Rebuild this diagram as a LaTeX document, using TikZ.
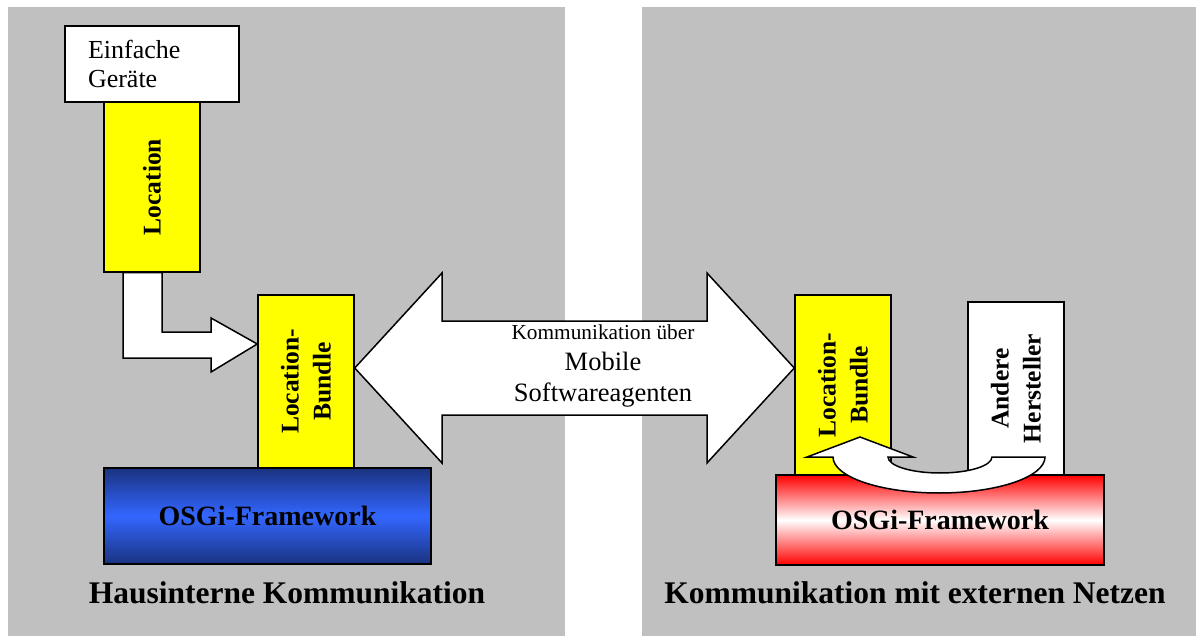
\documentclass[tikz,border=0pt]{standalone}
\usepackage{fontspec}
\setmainfont{Liberation Serif}
\usetikzlibrary{calc,positioning}

\definecolor{panelgray}{HTML}{C0C0C0}
\definecolor{boxyellow}{HTML}{FFFF00}
\definecolor{navy}{HTML}{1A3380}
\definecolor{lightblue}{HTML}{3366FF}
\definecolor{osgired}{HTML}{FF0000}

\tikzset{
  box/.style={draw=black, line width=1.5pt, inner sep=0pt},
  bundlebox/.style={box, fill=boxyellow, minimum height=96pt,
    font=\bfseries\fontsize{25.5}{32}\selectfont, align=center, rotate=90},
  framebox/.style={box, font=\bfseries\fontsize{28}{30}\selectfont},
  blockarrow/.style={draw=black, line width=1.5pt, fill=white, line join=miter},
  title/.style={font=\bfseries\fontsize{31.5}{36}\selectfont}
}

\begin{document}
\begin{tikzpicture}[x=1pt, y=-1pt]
\useasboundingbox (0,0) rectangle (1196,636);
% two gray panels
\fill[panelgray] (8,7) rectangle (565,636);
\fill[panelgray] (642,7) rectangle (1196,636);

% left side: devices, location, bundle, framework
\node[box, fill=white, minimum height=76pt, text width=128pt, inner xsep=23pt,
  align=left, font=\fontsize{26}{29}\selectfont] (geraete) at (152,64) {Einfache\\Ger\"ate};
\node[bundlebox, minimum width=170pt] (loc) at (152,187) {Location};
\node[bundlebox, minimum width=173pt] (bundlel) at (306,381.5) {Location-\\Bundle};
\node[framebox, minimum width=327pt, minimum height=96pt,
  top color=navy, bottom color=navy, middle color=lightblue] (osgil) at (267.5,516) {OSGi-Framework};

% right side: bundle, other vendors, framework
\node[bundlebox, minimum width=180pt] (bundler) at (843,385) {Location-\\Bundle};
\node[bundlebox, fill=white, minimum width=173pt] (andere) at (1016,388.5) {Andere\\Hersteller};
\node[framebox, minimum width=328pt, minimum height=90pt,
  top color=osgired, bottom color=osgired, middle color=white] (osgir) at (940,520) {OSGi-Framework};

% bent arrow from location to bundle (nodes are rotated: east is the top side)
\coordinate (locfoot) at (loc.west);
\coordinate (bundletip) at (bundlel.north);
\draw[blockarrow] (123,0 |- locfoot) -- (162,0 |- locfoot) -- (162,332) -- (211,332)
  -- (211,318) -- (bundletip |- 0,344) -- (211,372) -- (211,358) -- (123,358) -- cycle;

% double arrow between the two bundles
\coordinate (tipl) at (bundlel.south |- 0,368);
\coordinate (tipr) at (bundler.north |- 0,368);
\draw[blockarrow] (tipl) -- (442,273) -- (442,321) -- (707,321) -- (707,273) -- (tipr)
  -- (707,463) -- (707,415) -- (442,415) -- (442,463) -- cycle;
\node[align=center, font=\fontsize{26.5}{31}\selectfont] (agenten) at (603,366)
  {{\fontsize{21.3}{25}\selectfont Kommunikation \"uber}\\Mobile\\Softwareagenten};

% curved arrow from other vendors back to the bundle
\draw[blockarrow] (1045,457) arc[start angle=0, end angle=-180, x radius=106pt, y radius=36pt]
  -- (807,457) -- (860,437) -- (913,457) -- (888,457)
  arc[start angle=180, end angle=360, x radius=52pt, y radius=16pt] -- cycle;

% panel titles
\node[title] (hausintern) at (287,593) {Hausinterne Kommunikation};
\node[title] (extern) at (915,593) {Kommunikation mit externen Netzen};
\end{tikzpicture}
\end{document}
